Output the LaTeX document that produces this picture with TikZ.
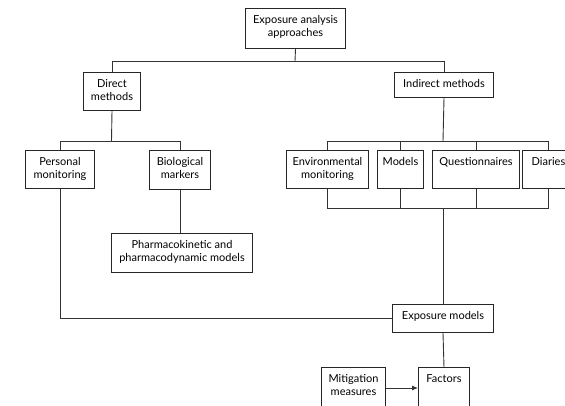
\documentclass[tikz,border=0pt]{standalone}
\usepackage{fontspec}
\setmainfont{Lato}
\usetikzlibrary{arrows.meta}
\begin{document}
\begin{tikzpicture}[x=1pt,y=-1pt,
  box/.style={draw=black!85, line width=1pt, inner sep=0pt, anchor=north west},
  txt/.style={anchor=north, align=center, inner sep=0pt, yshift=-7.5pt,
    font=\fontsize{11}{13}\selectfont, text=black},
  link/.style={draw=black!80, line width=0.9pt},
  flow/.style={link, -{Latex[length=6pt,width=5pt]}}]
  \useasboundingbox (0,0) rectangle (565,406);
  \fill[white] (0,0) rectangle (565,406);
  \clip (0,0) rectangle (565,406);

  % boxes: top-left corner, width, height
  \node[box, minimum width=100, minimum height=40] (T)  at (245,8)   {};
  \node[box, minimum width=57,  minimum height=38] (DM) at (83,72)   {};
  \node[box, minimum width=99,  minimum height=25] (IM) at (394,72)  {};
  \node[box, minimum width=69,  minimum height=38] (PM) at (25,150)  {};
  \node[box, minimum width=61,  minimum height=39] (BM) at (149,150) {};
  \node[box, minimum width=141, minimum height=39] (PK) at (111,233) {};
  \node[box, minimum width=82,  minimum height=38] (EN) at (286,150) {};
  \node[box, minimum width=46,  minimum height=38] (MO) at (377,150) {};
  \node[box, minimum width=87,  minimum height=38] (QU) at (432,150) {};
  \node[box, minimum width=52,  minimum height=38] (DI) at (522,150) {};
  \node[box, minimum width=101, minimum height=28] (EM) at (392,304) {};
  \node[box, minimum width=64,  minimum height=52] (MI) at (321,367) {};
  \node[box, minimum width=51,  minimum height=52] (FA) at (418,367) {};

  % box texts
  \node[txt] (tT)  at (T.north)  {Exposure analysis\\approaches};
  \node[txt] (tDM) at (DM.north) {Direct\\methods};
  \node[txt] (tIM) at (IM.north) {Indirect methods};
  \node[txt] (tPM) at (PM.north) {Personal\\monitoring};
  \node[txt] (tBM) at (BM.north) {Biological\\markers};
  \node[txt] (tPK) at (PK.north) {Pharmacokinetic and\\pharmacodynamic models};
  \node[txt] (tEN) at (EN.north) {Environmental\\monitoring};
  \node[txt] (tMO) at (MO.north) {Models};
  \node[txt] (tQU) at (QU.north) {Questionnaires};
  \node[txt] (tDI) at (DI.north) {Diaries};
  \node[txt] (tEM) at (EM.north) {Exposure models};
  \node[txt] (tMI) at (MI.north) {Mitigation\\measures};
  \node[txt] (tFA) at (FA.north) {Factors};

  % junction points of the tree
  \coordinate (j1) at (295,61);
  \coordinate (j2) at (111.5,141);
  \coordinate (j3) at (443,141);
  \coordinate (j4) at (443,208);
  \coordinate (ar) at (0,388);

  % connectors
  \draw[link] (T.south) -- (j1);
  \draw[link] (DM.north) |- (j1);
  \draw[link] (IM.north) |- (j1);

  \draw[link] (DM.south) -- (j2);
  \draw[link] (PM.north) |- (j2);
  \draw[link] (BM.north) |- (j2);
  \draw[link] (BM.south) -- (BM.south |- PK.north);

  \draw[link] (IM.south) -- (j3);
  \draw[link] (EN.north) |- (j3);
  \draw[link] (MO.north) |- (j3);
  \draw[link] (QU.north) |- (j3);
  \draw[link] (DI.north) |- (j3);

  \draw[link] (EN.south) |- (j4);
  \draw[link] (MO.south) |- (j4);
  \draw[link] (QU.south) |- (j4);
  \draw[link] (DI.south) |- (j4);
  \draw[link] (j4) -- (EM.north);

  \draw[link] (PM.south) |- (EM.west);
  \draw[link] (EM.south) -- (FA.north);
  \draw[flow] (MI.east |- ar) -- (FA.west |- ar);
\end{tikzpicture}
\end{document}
